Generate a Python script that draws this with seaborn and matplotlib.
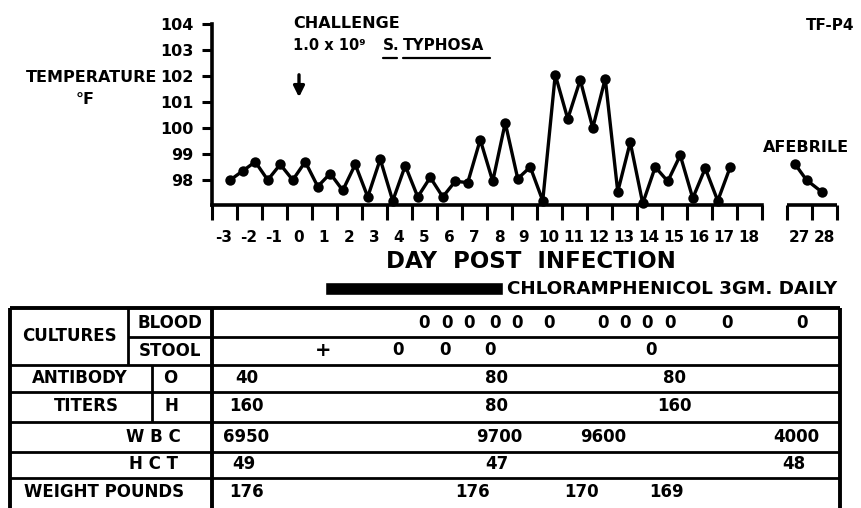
import matplotlib
matplotlib.use("Agg")
import matplotlib.pyplot as plt
import seaborn as sns
import pandas as pd
from matplotlib.lines import Line2D

# ---------------- data ----------------
temp_days = [-2.75, -2.25, -1.75, -1.25, -0.75, -0.25, 0.25, 0.75, 1.25, 1.75,
             2.25, 2.75, 3.25, 3.75, 4.25, 4.75, 5.25, 5.75, 6.25, 6.75,
             7.25, 7.75, 8.25, 8.75, 9.25, 9.75, 10.25, 10.75, 11.25, 11.75,
             12.25, 12.75, 13.25, 13.75, 14.25, 14.75, 15.25, 15.75, 16.25, 16.75,
             17.25]
temp_f = [98.0, 98.35, 98.7, 98.0, 98.6, 98.0, 98.7, 97.75, 98.25, 97.6,
          98.6, 97.35, 98.8, 97.2, 98.55, 97.35, 98.1, 97.35, 97.95, 97.9,
          99.55, 97.95, 100.2, 98.05, 98.5, 97.2, 102.05, 100.35, 101.85, 100.0,
          101.9, 97.55, 99.45, 97.1, 98.5, 97.95, 98.95, 97.3, 98.45, 97.2,
          98.5]
afebrile_days = [26.85, 27.3, 27.9]
afebrile_temp_f = [98.6, 98.0, 97.55]

day_labels_main = list(range(-3, 19))
day_labels_late = [27, 28]
temp_ticks = [98, 99, 100, 101, 102, 103, 104]

chloramphenicol_start, chloramphenicol_end = 1.05, 8.15

blood_days = [5.0, 5.9, 6.8, 7.85, 8.7, 10.0, 12.15, 13.05, 13.9, 14.85, 17.1, 27.1]
blood_results = ["0"] * 12
stool_days = [0.95, 3.95, 5.85, 7.65, 14.1]
stool_results = ["+", "0", "0", "0", "0"]
titer_o_days = [-2.1, 7.9, 15.0]
titer_o_values = ["40", "80", "80"]
titer_h_days = [-2.1, 7.9, 15.0]
titer_h_values = ["160", "80", "160"]
wbc_days = [-2.1, 8.0, 12.15, 26.9]
wbc_values = ["6950", "9700", "9600", "4000"]
hct_days = [-2.2, 7.9, 26.8]
hct_values = ["49", "47", "48"]
weight_days = [-2.1, 6.95, 11.3, 14.7]
weight_values = ["176", "176", "170", "169"]

GAP_SHIFT = 7  # days 27-28 are drawn right after the 18-day axis


def to_pos(d):
    return d if d <= 18.5 else d - GAP_SHIFT


# ---------------- layout helpers ----------------
W, H = 861, 508
def fxp(px): return px / W
def fyp(py): return 1 - py / H
def px2day(px): return (px - 299) / 25.0
def py2temp(py): return 98 - (py - 180) / 26.0

sns.set_style("white")
plt.rcParams["font.family"] = ["DejaVu Sans"]
plt.rcParams["font.weight"] = "bold"
plt.rcParams["text.color"] = "black"
plt.rcParams["xtick.color"] = "black"
plt.rcParams["ytick.color"] = "black"
plt.rcParams["axes.labelcolor"] = "black"

fig = plt.figure(figsize=(8.61, 5.08), dpi=100)
fig.patch.set_facecolor("white")

# ---------------- temperature chart ----------------
ax = fig.add_axes([0, fyp(270), 1, 270 / H])
ax.patch.set_alpha(0)
ax.set_xlim(px2day(0), px2day(W))
ax.set_ylim(py2temp(270), py2temp(0))

main_df = pd.DataFrame({"day": temp_days, "temp": temp_f})
late_df = pd.DataFrame({"day": [to_pos(d) for d in afebrile_days], "temp": afebrile_temp_f})
for df in (main_df, late_df):
    sns.lineplot(data=df, x="day", y="temp", ax=ax, color="black", linewidth=2.4,
                 marker="o", markersize=7.5, markeredgewidth=0, sort=False)

floor = py2temp(205)
for s in ("top", "right"):
    ax.spines[s].set_visible(False)
ax.spines["left"].set_position(("data", -3.5))
ax.spines["left"].set_bounds(floor, 104)
ax.spines["bottom"].set_position(("data", floor))
ax.spines["bottom"].set_bounds(-3.5, 18.5)
for s in ("left", "bottom"):
    ax.spines[s].set_linewidth(2.6)
    ax.spines[s].set_color("black")
    ax.spines[s].set_capstyle("projecting")
ax.hlines(floor, 19.5, 21.5, color="black", linewidth=2.6)

ax.set_yticks(temp_ticks, [str(t) for t in temp_ticks])
ax.tick_params(axis="y", left=True, direction="out", length=7, width=2.2, pad=6, labelsize=11.5)
major_x = [d - 0.5 for d in day_labels_main] + [18.5] + \
          [to_pos(d) - 0.5 for d in day_labels_late] + [to_pos(day_labels_late[-1]) + 0.5]
ax.set_xticks(major_x, [""] * len(major_x))
minor_pos = day_labels_main + [to_pos(d) for d in day_labels_late]
ax.set_xticks(minor_pos, [str(d) for d in day_labels_main + day_labels_late], minor=True)
ax.tick_params(axis="x", which="major", bottom=True, direction="out", length=11, width=2.2)
ax.tick_params(axis="x", which="minor", bottom=True, length=0, pad=18, labelsize=11)
for lab in ax.get_yticklabels() + ax.get_xticklabels(minor=True):
    lab.set_fontweight("bold")
ax.set_xlabel("")
ax.set_ylabel("")

# challenge arrow
ax.annotate("", xy=(0, py2temp(100)), xytext=(0, py2temp(72)),
            arrowprops=dict(arrowstyle="-|>", color="black", lw=2.4, mutation_scale=16))

# ---------------- annotations ----------------
fig.text(fxp(157), fyp(77), "TEMPERATURE", ha="right", va="center", fontsize=11.5)
fig.text(fxp(85), fyp(100), "°F", ha="center", va="center", fontsize=11.5)
fig.text(fxp(293), fyp(23), "CHALLENGE", ha="left", va="center", fontsize=11.5)
fig.text(fxp(293), fyp(45), "1.0 x 10⁹", ha="left", va="center", fontsize=10.5)
fig.text(fxp(383), fyp(45), "S.", ha="left", va="center", fontsize=11)
fig.text(fxp(403), fyp(45), "TYPHOSA", ha="left", va="center", fontsize=11)
fig.add_artist(Line2D([fxp(383), fxp(397)], [fyp(58), fyp(58)], color="black", lw=1.6))
fig.add_artist(Line2D([fxp(403), fxp(490)], [fyp(58), fyp(58)], color="black", lw=1.6))
fig.text(fxp(854), fyp(25), "TF-P4", ha="right", va="center", fontsize=11)
fig.text(fxp(806), fyp(148), "AFEBRILE", ha="center", va="center", fontsize=11.5)
fig.text(fxp(531), fyp(261), "DAY  POST  INFECTION", ha="center", va="center", fontsize=16.5)

# ---------------- table ----------------
tx = fig.add_axes([0, 0, 1, fyp(270)])
tx.patch.set_alpha(0)
tx.set_xlim(px2day(0), px2day(W))
tx.set_ylim(H, 270)
tx.axis("off")

tx.barh(288.5, chloramphenicol_end - chloramphenicol_start, left=chloramphenicol_start,
        height=13, color="black")
tx.text(px2day(507), 289, "CHLORAMPHENICOL 3GM. DAILY", ha="left", va="center", fontsize=13.2)

L, R = px2day(10), px2day(840)
cL, cS, cD = px2day(128), px2day(152), -3.5
lw_out, lw_in = 2.8, 2.0
tx.hlines(308, L, R, color="black", lw=lw_out)
tx.hlines(337, cL, R, color="black", lw=lw_in)
for y in (365, 392, 422, 452, 478):
    tx.hlines(y, L, R, color="black", lw=lw_in)
tx.vlines(L, 308, H, color="black", lw=lw_out)
tx.vlines(R, 308, H, color="black", lw=lw_out)
tx.vlines(cD, 308, H, color="black", lw=lw_out)
tx.vlines(cL, 308, 365, color="black", lw=lw_in)
tx.vlines(cS, 365, 422, color="black", lw=lw_in)

fs = 12
tx.text((L + cL) / 2, 336, "CULTURES", ha="center", va="center", fontsize=fs)
tx.text((cL + cD) / 2, 323, "BLOOD", ha="center", va="center", fontsize=fs)
tx.text((cL + cD) / 2, 351, "STOOL", ha="center", va="center", fontsize=fs)
tx.text(px2day(80), 378, "ANTIBODY", ha="center", va="center", fontsize=fs)
tx.text(px2day(170), 378, "O", ha="center", va="center", fontsize=fs)
tx.text(px2day(86), 406, "TITERS", ha="center", va="center", fontsize=fs)
tx.text(px2day(171), 406, "H", ha="center", va="center", fontsize=fs)
tx.text(px2day(181), 437, "W B C", ha="right", va="center", fontsize=fs)
tx.text(px2day(178), 464, "H C T", ha="right", va="center", fontsize=fs)
tx.text(px2day(104), 492, "WEIGHT POUNDS", ha="center", va="center", fontsize=fs)

rows = [(blood_days, blood_results, 323), (stool_days, stool_results, 350),
        (titer_o_days, titer_o_values, 378), (titer_h_days, titer_h_values, 406),
        (wbc_days, wbc_values, 437), (hct_days, hct_values, 464),
        (weight_days, weight_values, 492)]
for days, vals, y in rows:
    for d, v in zip(days, vals):
        tx.text(to_pos(d), y, v, ha="center", va="center", fontsize=fs + (2 if v == "+" else 0))

fig.savefig("out.png", dpi=100, facecolor="white")
